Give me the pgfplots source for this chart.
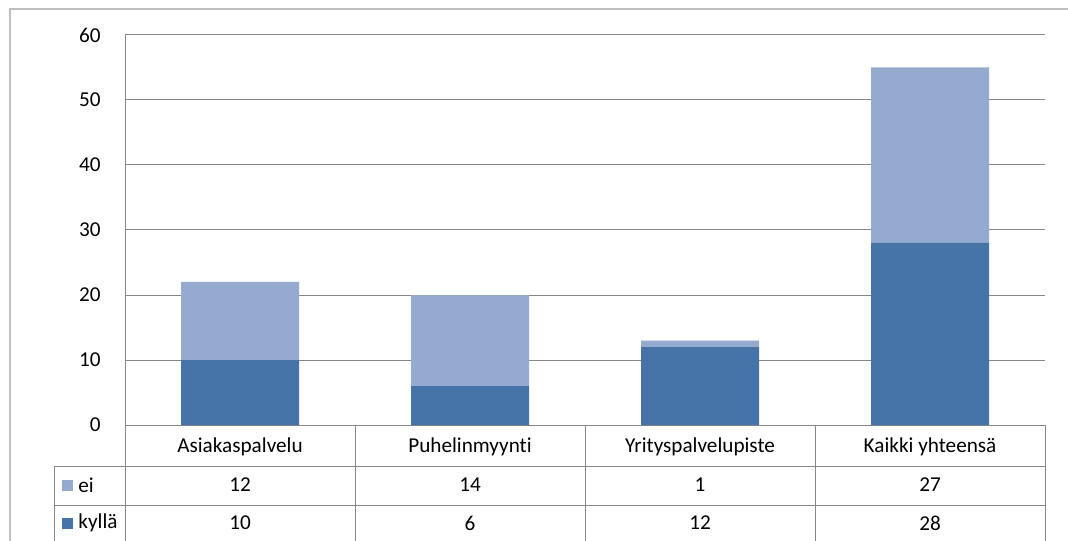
\documentclass[border=0pt]{standalone}
\usepackage{pgfplots}
\pgfplotsset{compat=1.18}
\usepackage{pgfplotstable}
\usepackage{fontspec}
\setmainfont{Carlito}[Ligatures={NoCommon}]

\definecolor{kylla}{RGB}{70,116,168}
\definecolor{ei}{RGB}{149,170,207}
\definecolor{gridgray}{RGB}{134,134,134}
\definecolor{framegray}{RGB}{191,191,191}

% answers per unit: kyllä = yes, ei = no
\pgfplotstableread{
idx kylla ei
0   10    12
1   6     14
2   12    1
3   28    27
}\answers

\begin{document}
\begin{tikzpicture}[font=\fontsize{10.6}{12.5}\selectfont]
\useasboundingbox (0,0) rectangle (534pt,270pt);
\begin{axis}[
  at={(62.5pt,57.5pt)}, anchor=south west,
  scale only axis, width=460pt, height=195pt,
  xmin=-0.5, xmax=3.5, ymin=0, ymax=60,
  ytick={0,10,...,60}, xtick=\empty,
  /pgf/number format/assume math mode=true,
  ymajorgrids, grid style={gridgray, line width=0.5pt},
  axis x line*=bottom, axis y line*=left,
  axis line style={gridgray, line width=0.5pt},
  major tick length=0pt,
  yticklabel style={anchor=east, inner sep=0pt, xshift=-12pt},
  ybar stacked, bar width=0.513,
]
\addplot[fill=kylla, draw=none] table[x=idx, y=kylla]{\answers};
\addplot[fill=ei, draw=none] table[x=idx, y=ei]{\answers};
\end{axis}

% data table under the chart (coordinates in pixels, origin top left)
\begin{scope}[x=0.5pt, y=-0.5pt, yshift=270pt]
  \draw[framegray, line width=1pt] (10,9) rectangle (1090,560);
  \draw[gridgray, line width=0.5pt] (125,425) -- (125,545);
  \draw[gridgray, line width=0.5pt] (54,466) -- (1045,466);
  \draw[gridgray, line width=0.5pt] (54,505) -- (1045,505);
  \draw[gridgray, line width=0.5pt] (54,466) -- (54,545);
  \foreach \x in {355,585,815,1045}
    \draw[gridgray, line width=0.5pt] (\x,425) -- (\x,545);
  \foreach \i/\name in {0/Asiakaspalvelu,1/Puhelinmyynti,2/Yrityspalvelupiste,3/Kaikki yhteensä}
    \node at (240+230*\i,447) {\name};
  \foreach \i in {0,...,3} {
    \pgfplotstablegetelem{\i}{ei}\of\answers
    \node at (240+230*\i,485) {\pgfplotsretval};
    \pgfplotstablegetelem{\i}{kylla}\of\answers
    \node at (240+230*\i,523) {\pgfplotsretval};
  }
  \fill[ei] (62,480) rectangle (73,491);
  \node[anchor=west, inner sep=0pt] at (78,485) {ei};
  \fill[kylla] (62,518) rectangle (73,529);
  \node[anchor=west, inner sep=0pt] at (78,523) {kyllä};
\end{scope}
\end{tikzpicture}
\end{document}
